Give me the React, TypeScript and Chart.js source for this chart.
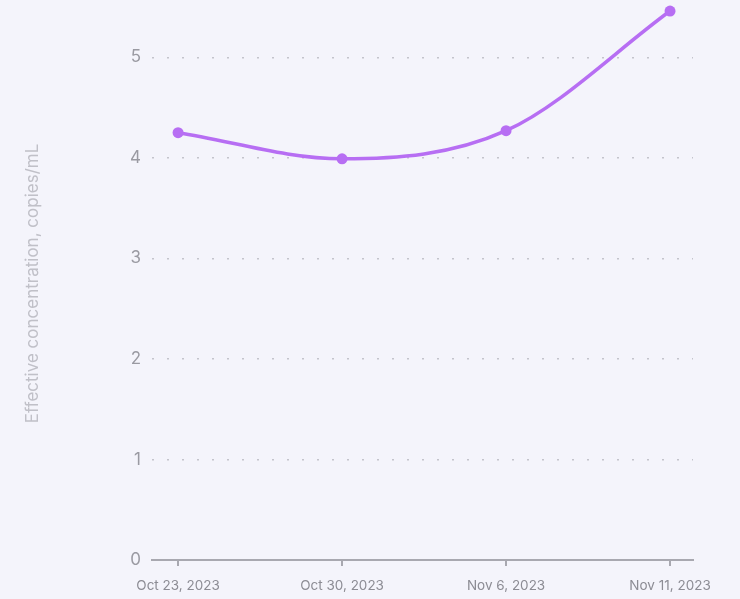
import React, { useEffect, useRef } from "react";
import { Chart, registerables } from "chart.js";

Chart.register(...registerables);

const categories = ["Oct 23, 2023", "Oct 30, 2023", "Nov 6, 2023", "Nov 11, 2023"];
const concentration = [4.25, 3.99, 4.27, 5.46];
const yTicks = [0, 1, 2, 3, 4, 5];
const yTitle = "Effective concentration, copies/mL";

const BG = "#f4f4fb";
const LINE = "#b76ef3";

export default function App() {
  const ref = useRef<HTMLCanvasElement | null>(null);

  useEffect(() => {
    document.body.style.margin = "0";
    const canvas = ref.current;
    if (!canvas) return;
    const chart = new Chart(canvas, {
      type: "line",
      data: {
        datasets: [
          {
            data: concentration.map((v, i) => ({ x: i, y: v })),
            borderColor: LINE,
            backgroundColor: LINE,
            borderWidth: 3.5,
            pointRadius: 5.5,
            pointBorderWidth: 0,
            pointBackgroundColor: LINE,
            cubicInterpolationMode: "monotone",
            clip: false,
          },
        ],
      },
      options: {
        animation: false,
        responsive: false,
        maintainAspectRatio: false,
        layout: { padding: { top: 7, right: 47, bottom: 0, left: 0 } },
        plugins: { legend: { display: false }, tooltip: { enabled: false } },
        scales: {
          x: {
            type: "linear",
            min: -0.159,
            max: 3.14,
            afterBuildTicks: (s: any) => {
              s.ticks = categories.map((_, i) => ({ value: i }));
            },
            afterFit: (s: any) => {
              s.height = 39;
              s.paddingLeft = 0;
              s.paddingRight = 0;
            },
            ticks: {
              callback: (v: any) => categories[Number(v)] ?? "",
              color: "#8c8c94",
              font: { family: "Inter", size: 13.5 },
              padding: 12,
              maxRotation: 0,
              autoSkip: false,
            },
            grid: {
              drawOnChartArea: false,
              drawTicks: true,
              tickLength: 6,
              color: "#a8a8b0",
              lineWidth: 2,
            },
            border: { display: true, color: "#a8a8b0", width: 2 },
          },
          y: {
            type: "linear",
            min: 0,
            max: 5.5,
            afterBuildTicks: (s: any) => {
              s.ticks = yTicks.map((v) => ({ value: v }));
            },
            afterFit: (s: any) => {
              s.width = 152;
              s.paddingTop = 0;
              s.paddingBottom = 0;
            },
            ticks: {
              color: "#9a9aa2",
              font: { family: "Inter", size: 17 },
              padding: 11,
            },
            grid: {
              drawTicks: false,
              color: (ctx: any) => (ctx.tick && ctx.tick.value === 0 ? "rgba(0,0,0,0)" : "#c4c4cc"),
              lineWidth: 1.5,
            },
            border: { display: false, dash: [2, 13] },
            title: {
              display: true,
              text: yTitle,
              color: "#c0c0c8",
              font: { family: "Inter", size: 17 },
              padding: { top: 23, bottom: 0 },
            },
          },
        },
      },
    });
    return () => chart.destroy();
  }, []);

  return (
    <div style={{ position: "absolute", left: 0, top: 0, width: 740, height: 599, background: BG }}>
      <canvas ref={ref} width={740} height={599} style={{ width: 740, height: 599, display: "block" }} />
    </div>
  );
}
